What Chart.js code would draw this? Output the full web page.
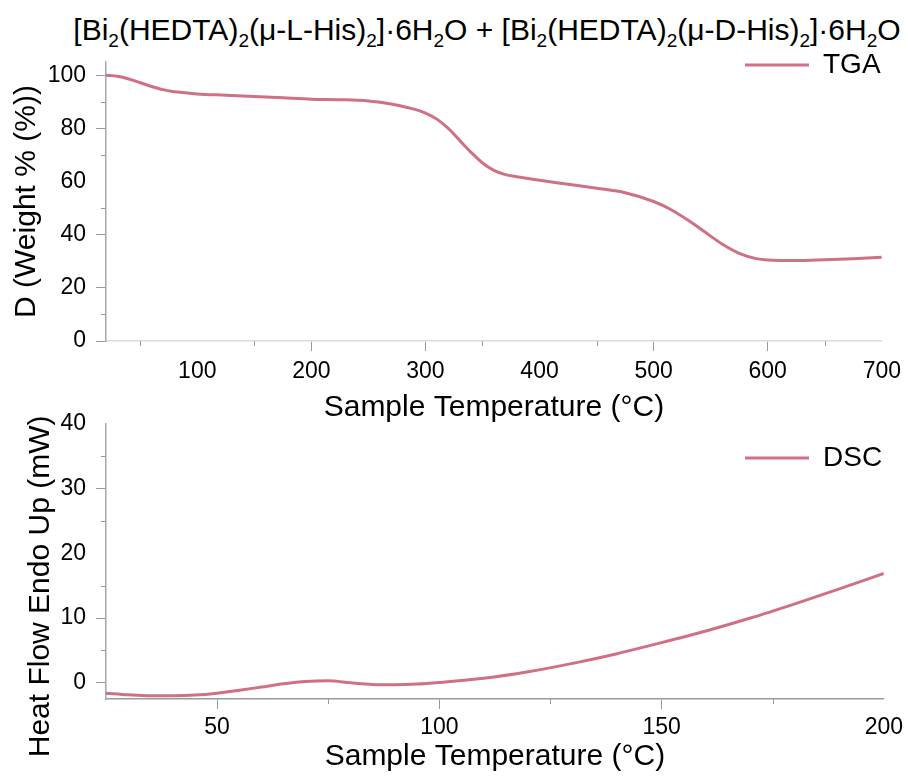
<!DOCTYPE html>
<html>
<head>
<meta charset="utf-8">
<script src="https://cdn.jsdelivr.net/npm/chart.js@4.4.1/dist/chart.umd.min.js"></script>
<style>
html,body{margin:0;padding:0;background:#fff;width:908px;height:778px;overflow:hidden;}
#title{position:absolute;left:487px;top:13px;transform:translateX(-50%);white-space:nowrap;font-family:"Liberation Sans",Arial,sans-serif;font-size:30px;line-height:34px;color:#000;}
#title sub{font-size:19px;line-height:0;vertical-align:baseline;position:relative;top:7px;}
#c1{position:absolute;left:0;top:0;}
#c2{position:absolute;left:0;top:400px;}
</style>
</head>
<body>
<div id="title">[Bi<sub>2</sub>(HEDTA)<sub>2</sub>(μ-L-His)<sub>2</sub>]·6H<sub>2</sub>O + [Bi<sub>2</sub>(HEDTA)<sub>2</sub>(μ-D-His)<sub>2</sub>]·6H<sub>2</sub>O</div>
<canvas id="c1" width="908" height="430"></canvas>
<canvas id="c2" width="908" height="378"></canvas>
<script>
// ---- data ----
const TGA_TEMP   = [20, 30, 40, 50, 60, 70, 80, 90, 100, 125, 150, 175, 200, 225, 250, 270, 285, 300, 310, 320, 330, 340, 350, 360, 370, 380, 400, 425, 450, 475, 500, 515, 530, 545, 560, 575, 590, 600, 625, 650, 675, 700];
const TGA_WEIGHT = [100, 99.6, 98.6, 97.2, 95.8, 94.6, 93.8, 93.4, 93.0, 92.5, 92.0, 91.5, 91.0, 90.8, 90.3, 89.2, 87.8, 85.8, 83.5, 80.0, 75.5, 71.0, 67.0, 64.2, 62.6, 61.8, 60.5, 59.0, 57.5, 55.8, 52.5, 49.5, 45.5, 41.0, 36.5, 33.0, 31.0, 30.5, 30.3, 30.6, 31.0, 31.5];
const DSC_TEMP   = [25, 30, 35, 40, 45, 50, 55, 60, 65, 70, 75, 80, 85, 90, 95, 100, 110, 120, 130, 140, 150, 160, 170, 180, 190, 200];
const DSC_HEAT   = [-1.6, -1.85, -2.0, -2.0, -1.9, -1.6, -1.15, -0.65, -0.15, 0.2, 0.3, 0.0, -0.25, -0.3, -0.2, 0.05, 0.7, 1.7, 3.0, 4.5, 6.2, 8.0, 10.0, 12.2, 14.5, 16.9];

const TGA_X_TICKS = [100, 200, 300, 400, 500, 600, 700];
const TGA_Y_TICKS = [0, 20, 40, 60, 80, 100];
const DSC_X_TICKS = [50, 100, 150, 200];
const DSC_Y_TICKS = [0, 10, 20, 30, 40];

// tick marks that are visible in the reference
const TGA_X_MARKED = [200, 300, 500, 600];
const TGA_X_MINOR  = [50, 150, 350, 450, 650];
const TGA_Y_MARKED = [0, 20, 40, 80, 100];
const TGA_Y_MINOR  = [10, 50, 70, 90];
const DSC_X_MARKED = [50, 100, 150];
const DSC_X_MINOR  = [75, 125, 175];
const DSC_Y_MARKED = [0, 10, 30];
const DSC_Y_MINOR  = [5, 15, 25, 35];

const FONT = '"Liberation Sans", Arial, sans-serif';
const LINE_COLOR = 'rgb(208,112,132)';
const TICK_COLOR = '#9a9a9a';

const minorTicks = {
  id: 'minorTicks',
  afterDraw(chart, args, opts) {
    const ctx = chart.ctx, xs = chart.scales.x, ys = chart.scales.y;
    ctx.save();
    ctx.strokeStyle = opts.color;
    ctx.lineWidth = 1;
    opts.x.forEach(v => {
      const p = Math.round(xs.getPixelForValue(v)) + 0.5;
      ctx.beginPath(); ctx.moveTo(p, xs.top); ctx.lineTo(p, xs.top + opts.len); ctx.stroke();
    });
    opts.y.forEach(v => {
      const p = Math.round(ys.getPixelForValue(v)) + 0.5;
      ctx.beginPath(); ctx.moveTo(ys.right, p); ctx.lineTo(ys.right - opts.len, p); ctx.stroke();
    });
    ctx.restore();
  }
};
const legendShift = {
  id: 'legendShift',
  afterLayout(chart, args, opts) {
    const l = chart.legend;
    if (!l) return;
    l.left += opts.dx; l.right += opts.dx;
    l.top += opts.dy; l.bottom += opts.dy;
  }
};

function makeChart(id, cfg) {
  return new Chart(document.getElementById(id), {
    type: 'line',
    data: {
      datasets: [{
        label: cfg.label,
        data: cfg.xs.map((x, i) => ({x: x, y: cfg.ys[i]})),
        borderColor: LINE_COLOR,
        backgroundColor: LINE_COLOR,
        borderWidth: 3,
        pointRadius: 0,
        fill: false,
        cubicInterpolationMode: 'monotone'
      }]
    },
    plugins: [minorTicks, legendShift],
    options: {
      responsive: false,
      animation: false,
      layout: { padding: cfg.padding },
      plugins: {
        title: { display: false },
        tooltip: { enabled: false },
        legend: {
          position: 'chartArea',
          align: 'start',
          labels: {
            boxWidth: 64, boxHeight: 3, padding: 0, color: '#000',
            font: { size: 28, family: FONT },
            generateLabels: (chart) => chart.data.datasets.map((ds, i) => ({
              text: ds.label, fillStyle: ds.borderColor, strokeStyle: ds.borderColor,
              lineWidth: 0, hidden: false, datasetIndex: i
            }))
          }
        },
        minorTicks: { x: cfg.xMinor, y: cfg.yMinor, len: 5, color: TICK_COLOR },
        legendShift: cfg.legendShift
      },
      scales: {
        x: {
          type: 'linear', min: cfg.xMin, max: cfg.xMax,
          afterBuildTicks: s => { s.ticks = cfg.xTicks.map(v => ({value: v})); },
          afterFit: s => { s.height = cfg.xHeight; },
          grid: {
            drawOnChartArea: false, drawTicks: true, tickLength: 10, tickWidth: 1,
            tickColor: c => (c.tick && cfg.xMarked.includes(c.tick.value)) ? TICK_COLOR : 'rgba(0,0,0,0)'
          },
          border: { color: cfg.xBorder, width: 1.5 },
          ticks: { font: { size: 23, family: FONT }, color: '#000', padding: cfg.xTickPad, maxRotation: 0, autoSkip: false },
          title: { display: true, text: 'Sample Temperature (°C)', color: '#000',
                   font: { size: 30, family: FONT }, padding: { top: 0, bottom: cfg.xTitlePad } }
        },
        y: {
          type: 'linear', min: cfg.yMin, max: cfg.yMax,
          afterBuildTicks: s => { s.ticks = cfg.yTicks.map(v => ({value: v})); },
          afterFit: s => { s.width = 106; },
          grid: {
            drawOnChartArea: false, drawTicks: true, tickLength: 10, tickWidth: 1,
            tickColor: c => (c.tick && cfg.yMarked.includes(c.tick.value)) ? TICK_COLOR : 'rgba(0,0,0,0)'
          },
          border: { color: '#a8a8a8', width: 1.5 },
          ticks: { font: { size: 23, family: FONT }, color: '#000', padding: 10 },
          title: { display: true, text: cfg.yTitle, color: '#000',
                   font: { size: 30, family: FONT }, padding: { top: cfg.yTitlePad, bottom: 0 } }
        }
      }
    }
  });
}

makeChart('c1', {
  label: 'TGA', xs: TGA_TEMP, ys: TGA_WEIGHT,
  xMin: 20, xMax: 700, yMin: 0, yMax: 105,
  xTicks: TGA_X_TICKS, yTicks: TGA_Y_TICKS,
  xMarked: TGA_X_MARKED, yMarked: TGA_Y_MARKED,
  xMinor: TGA_X_MINOR, yMinor: TGA_Y_MINOR,
  padding: { left: 0, top: 62, right: 23, bottom: 0 },
  xHeight: 89, xTitlePad: 4, xTickPad: 7, xBorder: '#dcdcdc',
  yTitle: 'D (Weight % (%))', yTitlePad: 9,
  legendShift: { dx: 639, dy: 51 }
});

makeChart('c2', {
  label: 'DSC', xs: DSC_TEMP, ys: DSC_HEAT,
  xMin: 25, xMax: 200, yMin: -2.5, yMax: 40,
  xTicks: DSC_X_TICKS, yTicks: DSC_Y_TICKS,
  xMarked: DSC_X_MARKED, yMarked: DSC_Y_MARKED,
  xMinor: DSC_X_MINOR, yMinor: DSC_Y_MINOR,
  padding: { left: 0, top: 21, right: 24, bottom: 0 },
  xHeight: 79, xTitlePad: 3, xTickPad: 5, xBorder: '#9a9a9a',
  yTitle: 'Heat Flow Endo Up (mW)      ', yTitlePad: 23,
  legendShift: { dx: 639, dy: 44 }
});
</script>
</body>
</html>
